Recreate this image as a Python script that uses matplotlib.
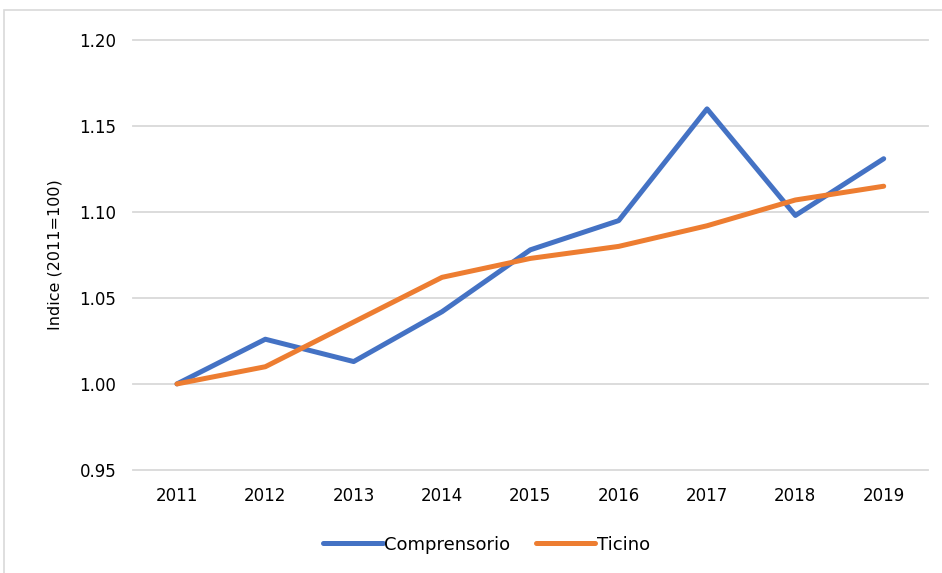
import matplotlib.pyplot as plt
from matplotlib.patches import Rectangle

years = ['2011', '2012', '2013', '2014', '2015', '2016', '2017', '2018', '2019']
comprensorio = [1.000, 1.026, 1.013, 1.042, 1.078, 1.095, 1.160, 1.098, 1.131]
ticino = [1.000, 1.010, 1.036, 1.062, 1.073, 1.080, 1.092, 1.107, 1.115]
y_ticks = [0.95, 1.00, 1.05, 1.10, 1.15, 1.20]

plt.rcParams['font.family'] = ['DejaVu Sans']

fig = plt.figure(figsize=(9.42, 5.73), dpi=100)
ax = fig.add_axes([0.141, 0.180, 0.844, 0.750])

x = range(len(years))
ax.plot(x, comprensorio, color='#4472C4', linewidth=3.6, label='Comprensorio', solid_capstyle='round')
ax.plot(x, ticino, color='#ED7D31', linewidth=3.6, label='Ticino', solid_capstyle='round')

ax.set_xlim(-0.5, len(years) - 0.5)
ax.set_ylim(0.95, 1.20)
ax.set_xticks(list(x))
ax.set_xticklabels(years)
ax.set_yticks(y_ticks)
ax.set_yticklabels([f'{v:.2f}' for v in y_ticks])
ax.tick_params(length=0, labelsize=12, colors='#000000')
ax.tick_params(axis='x', pad=12)
ax.tick_params(axis='y', pad=12)
ax.grid(axis='y', color='#D9D9D9', linewidth=1.3)
for gl in ax.get_ygridlines():
    gl.set_clip_on(False)
ax.set_axisbelow(True)
for sp in ax.spines.values():
    sp.set_visible(False)

ax.set_ylabel('Indice (2011=100)', fontsize=11.5, labelpad=12)

ax.legend(loc='upper center', bbox_to_anchor=(0.445, -0.115), ncol=2, frameon=False,
          fontsize=13, handlelength=3.3, handletextpad=0.1, columnspacing=1.4)

fig.patches.append(Rectangle((4 / 942, -0.1), 1.2, 1.1 - 10 / 573, transform=fig.transFigure,
                             fill=False, edgecolor='#D9D9D9', linewidth=1.2))

fig.savefig('out.png', dpi=100)
